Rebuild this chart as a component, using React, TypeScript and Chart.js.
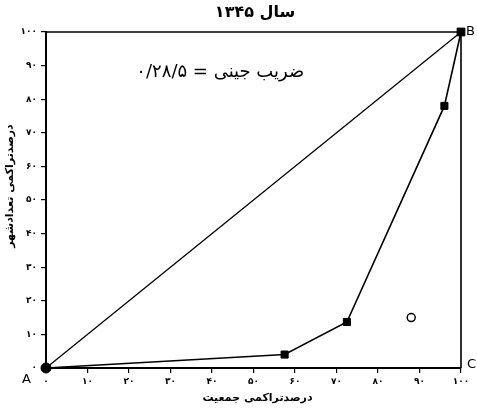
import { useEffect, useRef } from 'react';
import { Chart, registerables } from 'chart.js';

Chart.register(...registerables);

// ---- data ----
const tickValues = [0, 10, 20, 30, 40, 50, 60, 70, 80, 90, 100];
const tickLabels = ['۰', '۱۰', '۲۰', '۳۰', '۴۰', '۵۰', '۶۰', '۷۰', '۸۰', '۹۰', '۱۰۰'];
const populationCum = [0, 57.5, 72.5, 96, 100];
const citiesCum = [0, 4, 13.7, 78, 100];
const equalityX = [0, 100];
const equalityY = [0, 100];
const markerX = [88];
const markerY = [15];
const titleText = 'سال ۱۳۴۵';
const giniText = 'ضریب جینی = ۰/۲۸/۵';
const xTitle = 'درصدتراکمی جمعیت';
const yTitle = 'درصدتراکمی تعدادشهر';
const cornerLabels = ['A', 'B', 'C'];

const FONT = '"DejaVu Sans", sans-serif';

const overlayPlugin = {
  id: 'overlay',
  beforeDatasetsDraw(chart: any) {
    const { ctx, chartArea } = chart;
    ctx.save();
    ctx.strokeStyle = '#000';
    ctx.lineWidth = 1.6;
    ctx.beginPath();
    ctx.moveTo(chartArea.left, chartArea.top);
    ctx.lineTo(chartArea.right, chartArea.top);
    ctx.lineTo(chartArea.right, chartArea.bottom);
    ctx.stroke();
    ctx.restore();
  },
  afterDraw(chart: any) {
    const { ctx, chartArea } = chart;
    const xs = chart.scales.x;
    const ys = chart.scales.y;
    ctx.save();
    ctx.fillStyle = '#000';
    ctx.textAlign = 'center';
    ctx.textBaseline = 'middle';
    // title
    ctx.font = `bold 16px ${FONT}`;
    ctx.fillText(titleText, 255, 13);
    // gini annotation
    ctx.font = `18px ${FONT}`;
    ctx.fillText(giniText, xs.getPixelForValue(42), ys.getPixelForValue(88));
    // x title
    ctx.font = `bold 11px ${FONT}`;
    ctx.fillText(xTitle, (chartArea.left + chartArea.right) / 2 + 4, 398);
    // y title
    ctx.save();
    ctx.translate(10, 186);
    ctx.rotate(-Math.PI / 2);
    ctx.fillText(yTitle, 0, 0);
    ctx.restore();
    // corner labels
    ctx.font = `13px ${FONT}`;
    ctx.textAlign = 'left';
    ctx.fillText(cornerLabels[0], 22, 380);
    ctx.fillText(cornerLabels[1], chartArea.right + 5, chartArea.top);
    ctx.fillText(cornerLabels[2], chartArea.right + 6, chartArea.bottom - 3);
    ctx.restore();
  },
};

export default function App() {
  const ref = useRef<HTMLCanvasElement | null>(null);

  useEffect(() => {
    document.body.style.margin = '0';
    if (!ref.current) return;
    const tickCb = (v: any) => {
      const i = tickValues.indexOf(Number(v));
      return i >= 0 ? tickLabels[i] : '';
    };
    const chart = new Chart(ref.current, {
      type: 'scatter',
      data: {
        datasets: [
          {
            label: 'equality',
            data: equalityX.map((x, i) => ({ x, y: equalityY[i] })),
            showLine: true,
            borderColor: '#000',
            borderWidth: 1.3,
            pointRadius: 0,
            clip: false,
          },
          {
            label: 'lorenz',
            data: populationCum.map((x, i) => ({ x, y: citiesCum[i] })),
            showLine: true,
            borderColor: '#000',
            backgroundColor: '#000',
            borderWidth: 1.6,
            pointStyle: ['circle', 'rect', 'rect', 'rect', 'rect'],
            pointRadius: [5, 5, 5, 5, 5.5],
            pointBorderWidth: 1,
            clip: false,
          },
          {
            label: 'marker',
            data: markerX.map((x, i) => ({ x, y: markerY[i] })),
            showLine: false,
            borderColor: '#000',
            backgroundColor: '#fff',
            pointStyle: 'circle',
            pointRadius: 4,
            pointBorderWidth: 1.5,
            clip: false,
          },
        ],
      },
      options: {
        responsive: false,
        animation: false,
        devicePixelRatio: 1,
        layout: { padding: { top: 32, right: 16, left: 0, bottom: 0 } },
        plugins: {
          legend: { display: false },
          tooltip: { enabled: false },
          title: { display: false },
        },
        scales: {
          x: {
            type: 'linear',
            min: 0,
            max: 100,
            afterFit: (s: any) => {
              s.height = 40;
            },
            afterBuildTicks: (s: any) => {
              s.ticks = tickValues.map((v) => ({ value: v }));
            },
            ticks: {
              callback: tickCb,
              color: '#000',
              font: { family: FONT, size: 9, weight: 'bold' },
              padding: 3,
              maxRotation: 0,
              autoSkip: false,
            },
            grid: {
              display: true,
              drawOnChartArea: false,
              drawTicks: true,
              tickLength: 5,
              color: '#000',
              lineWidth: 1.2,
            },
            border: { display: true, color: '#000', width: 2 },
          },
          y: {
            type: 'linear',
            min: 0,
            max: 100,
            afterFit: (s: any) => {
              s.width = 46;
            },
            afterBuildTicks: (s: any) => {
              s.ticks = tickValues.map((v) => ({ value: v }));
            },
            ticks: {
              callback: tickCb,
              color: '#000',
              font: { family: FONT, size: 9, weight: 'bold' },
              padding: 4,
              autoSkip: false,
            },
            grid: {
              display: true,
              drawOnChartArea: false,
              drawTicks: true,
              tickLength: 5,
              color: '#000',
              lineWidth: 1.2,
            },
            border: { display: true, color: '#000', width: 2 },
          },
        },
      },
      plugins: [overlayPlugin],
    } as any);
    return () => chart.destroy();
  }, []);

  return <canvas ref={ref} width={477} height={408} style={{ display: 'block', width: 477, height: 408 }} />;
}
